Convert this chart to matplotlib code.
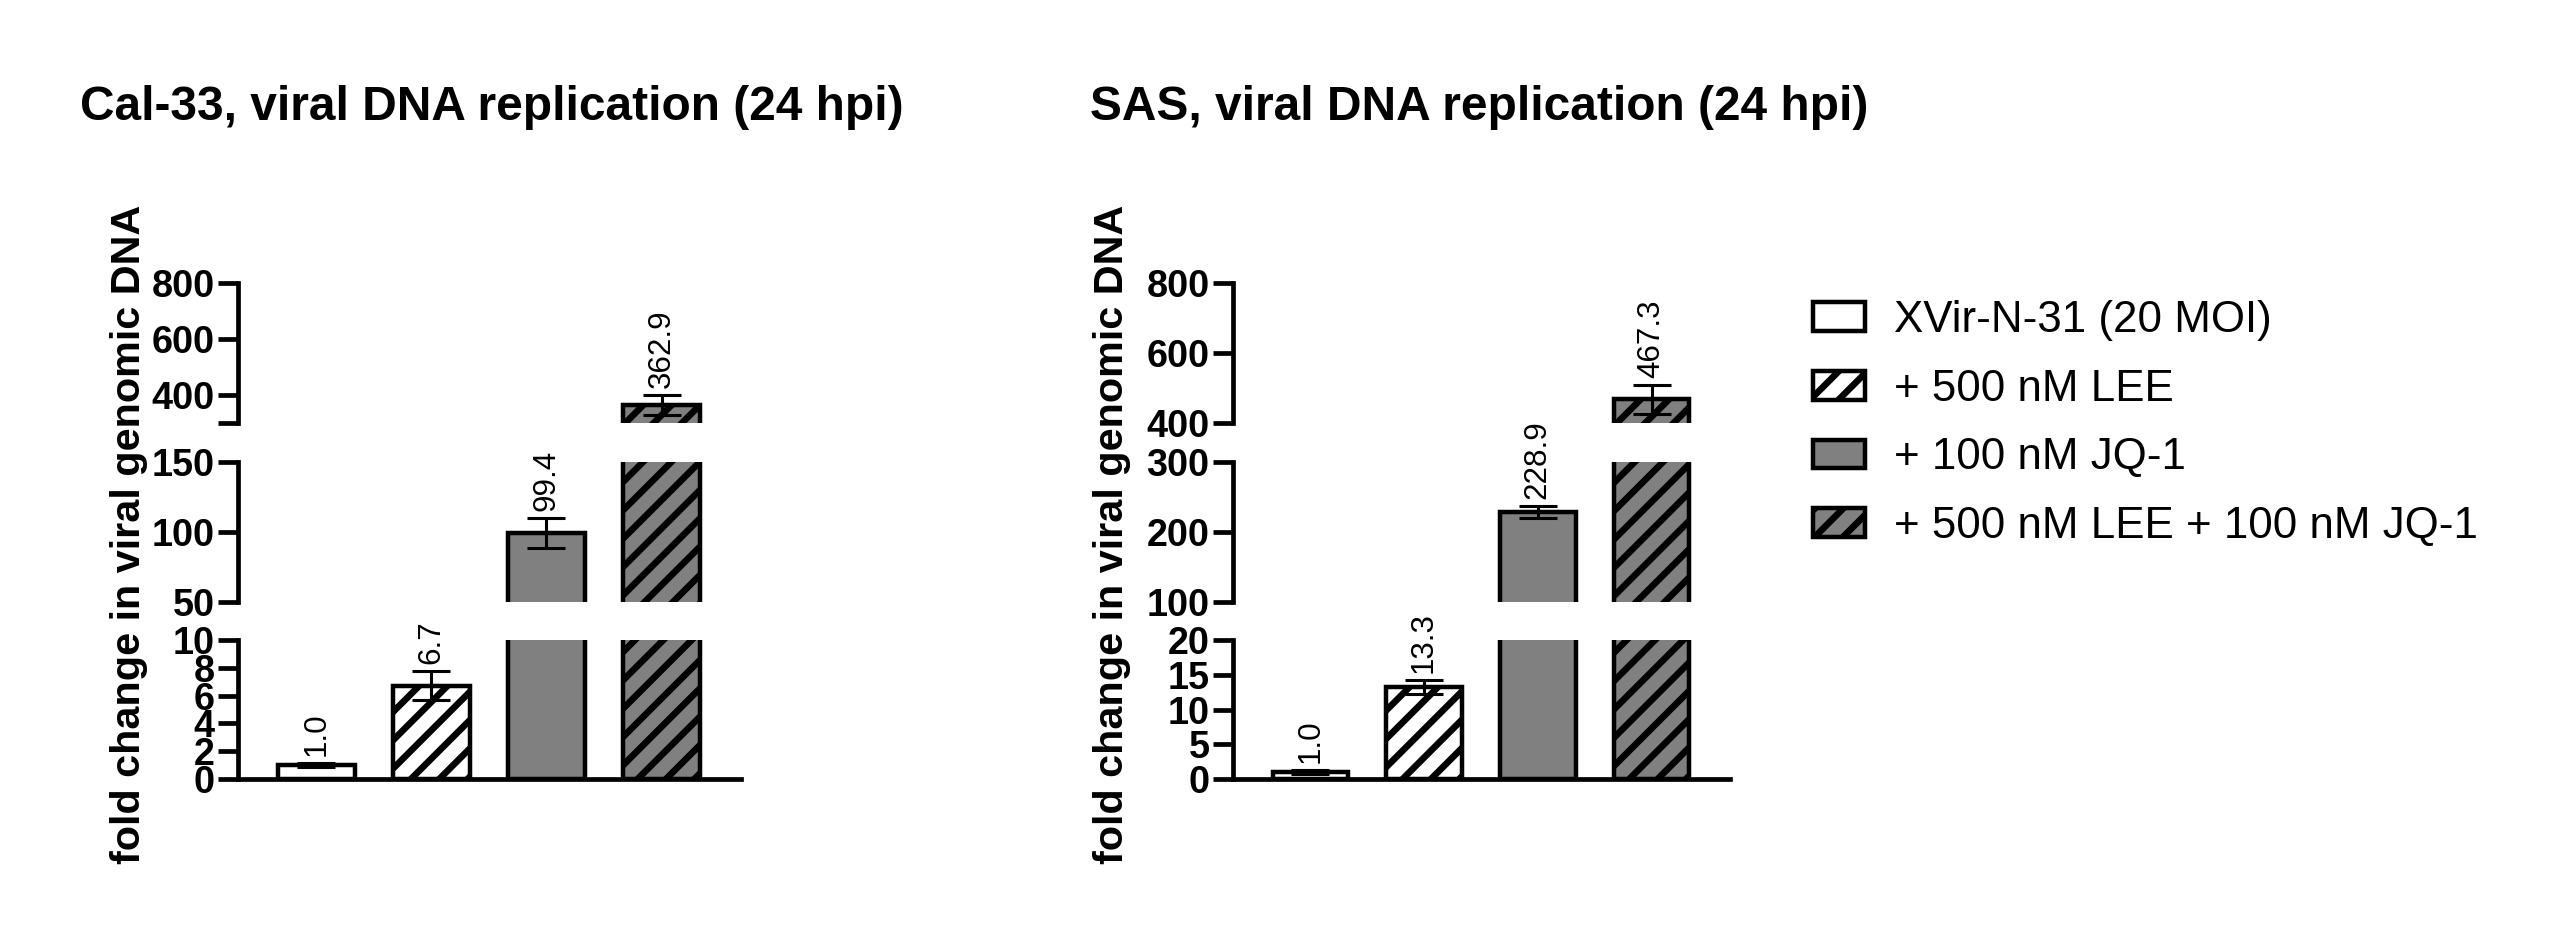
import numpy as np
import matplotlib
matplotlib.use("Agg")
import matplotlib.pyplot as plt
from matplotlib.patches import Patch

# Datos
grupos = ['XVir-N-31 (20 MOI)', '+ 500 nM LEE', '+ 100 nM JQ-1', '+ 500 nM LEE + 100 nM JQ-1']

cal33_media = [1.0, 6.7, 99.4, 362.9]
cal33_error = [0.15, 1.05, 10.5, 36.0]
cal33_tramos = [(0, 10), (50, 150), (300, 800)]
cal33_ticks = [[0, 2, 4, 6, 8, 10], [50, 100, 150], [300, 400, 600, 800]]
cal33_ticklabels = [['0', '2', '4', '6', '8', '10'], ['50', '100', '150'], ['', '400', '600', '800']]

sas_media = [1.0, 13.3, 228.9, 467.3]
sas_error = [0.3, 1.0, 8.5, 41.0]
sas_tramos = [(0, 20), (100, 300), (400, 800)]
sas_ticks = [[0, 5, 10, 15, 20], [100, 200, 300], [400, 600, 800]]
sas_ticklabels = [['0', '5', '10', '15', '20'], ['100', '200', '300'], ['400', '600', '800']]

titulos = ['Cal-33, viral DNA replication (24 hpi)', 'SAS, viral DNA replication (24 hpi)']
ylabel = 'fold change in viral genomic DNA'

colores = ['white', 'white', '#808080', '#808080']
tramas = ['', '//', '', '//']

plt.rcParams['font.family'] = ['Liberation Sans', 'DejaVu Sans']
plt.rcParams['hatch.linewidth'] = 2.8
plt.rcParams['hatch.color'] = 'black'

W, H = 2555, 939
DPI = 170
fig = plt.figure(figsize=(W / DPI, H / DPI), dpi=DPI)

# posiciones en pixeles: (izquierda, derecha) del panel, y tramos verticales (arriba, abajo)
paneles_x = [(238, 741), (1233, 1730)]
tramos_y = [(640, 779), (462, 602), (283, 423)]


def dibujar_panel(px, media, error, tramos, ticks, ticklabels, titulo, xtitulo, xlabel):
    x = np.arange(len(media))
    tope = np.array(media) + np.array(error)
    ejes = []
    for i, (lo, hi) in enumerate(tramos):
        top_px, bot_px = tramos_y[i]
        ax = fig.add_axes([px[0] / W, 1 - bot_px / H, (px[1] - px[0]) / W, (bot_px - top_px) / H])
        ax.bar(x, media, width=0.665, color=colores, hatch=tramas,
               edgecolor='black', linewidth=1.9, zorder=2)
        ax.errorbar(x, media, yerr=error, fmt='none', ecolor='black',
                    elinewidth=1.3, capsize=8, capthick=1.3, zorder=3)
        ax.set_xlim(-0.68, 3.69)
        ax.set_ylim(lo, hi)
        ax.set_yticks(ticks[i])
        ax.set_yticklabels(ticklabels[i], fontsize=16.0, fontweight='bold')
        ax.set_xticks([])
        for s in ['top', 'right']:
            ax.spines[s].set_visible(False)
        ax.spines['left'].set_linewidth(2.0)
        ax.spines['bottom'].set_linewidth(2.0)
        if i > 0:
            ax.spines['bottom'].set_visible(False)
        ax.tick_params(axis='y', direction='out', length=8.5, width=2.0, pad=1.5)
        ax.patch.set_visible(False)
        ejes.append(ax)

    # etiquetas de valor encima de cada barra
    for j in range(len(media)):
        k = 0
        for i, (lo, hi) in enumerate(tramos):
            if tope[j] >= lo:
                k = i
        ejes[k].annotate(f'{media[j]:.1f}', xy=(x[j], tope[j]), xytext=(0, 3),
                         textcoords='offset points', rotation=90, ha='center',
                         va='bottom', fontsize=13.3, annotation_clip=False)

    fig.text(xtitulo / W, 1 - 107 / H, titulo, fontsize=20.3, fontweight='bold',
             ha='left', va='center')
    fig.text(xlabel / W, 1 - 534 / H, ylabel, fontsize=17.5, fontweight='bold',
             rotation=90, ha='center', va='center')


dibujar_panel(paneles_x[0], cal33_media, cal33_error, cal33_tramos, cal33_ticks,
              cal33_ticklabels, titulos[0], 80, 129)
dibujar_panel(paneles_x[1], sas_media, sas_error, sas_tramos, sas_ticks,
              sas_ticklabels, titulos[1], 1090, 1112)

handles = [Patch(facecolor=c, edgecolor='black', hatch=h, linewidth=1.9)
           for c, h in zip(colores, tramas)]
fig.legend(handles, grupos, loc='upper left', bbox_to_anchor=(1813 / W, 1 - 300 / H),
           frameon=False, fontsize=18.6, handlelength=1.18, handleheight=0.63,
           handletextpad=0.67, labelspacing=0.63, borderaxespad=0, borderpad=0)

fig.savefig('out.png', dpi=DPI)
